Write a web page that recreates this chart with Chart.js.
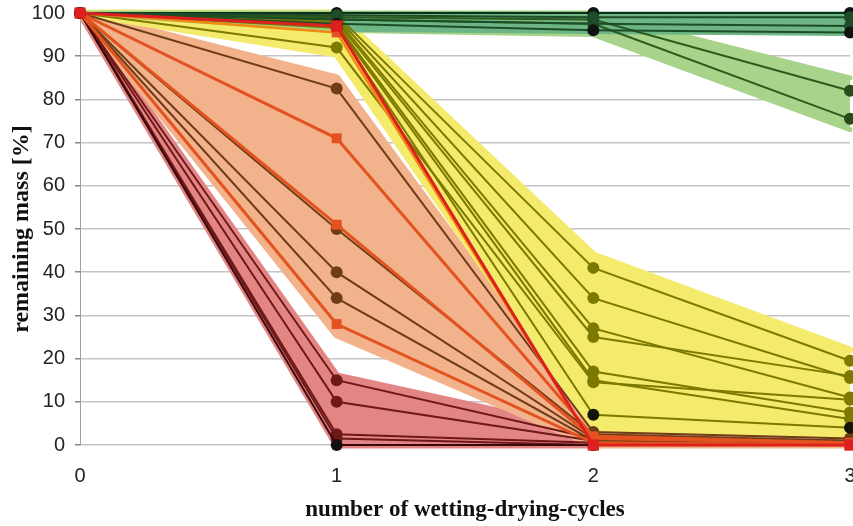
<!DOCTYPE html>
<html>
<head>
<meta charset="utf-8">
<script src="https://cdn.jsdelivr.net/npm/chart.js@4/dist/chart.umd.min.js"></script>
<style>
  html, body { margin: 0; padding: 0; background: #fff; overflow: hidden; }
  #wrap { width: 858px; height: 526px; position: relative; }
</style>
</head>
<body>
<div id="wrap"><canvas id="c"></canvas></div>
<script>
// number of wetting-drying cycles
const cycles = ['0', '1', '2', '3'];

// remaining mass [%] per specimen, one value per cycle (null = no measurement)
// dark red group: decomposed after the first cycles
const redA = [100, 15, 1.5, null];
const redB = [100, 10, 1, null];
const redC = [100, 2.5, 0.5, null];
const redD = [100, 1.5, 0, null];
const redE = [100, 0, 0, null];

// orange group
const brown1 = [100, 82.5, 3, 1.5];
const orange1 = [100, 71, 2, 0.5];
const orange2 = [100, 51, 1.5, 0.5];
const brown2 = [100, 50, 2.5, 1];
const brown3 = [100, 40, 1.5, 1];
const brown4 = [100, 34, 1, 0.5];
const orange3 = [100, 28, 0.5, 0];

// yellow group
const olive1 = [100, 99.5, 41, 19.5];
const olive2 = [100, 99, 34, 15.5];
const olive3 = [100, 98.5, 27, 11];
const olive4 = [100, 98, 25, 16];
const olive5 = [100, 97.5, 17, 7.5];
const olive6 = [100, 97, 15, 6];
const olive7 = [100, 92, 14.5, 10.5];
const olive8 = [100, 96.5, 7, 4];
const orange4 = [100, 95.5, 0, 0];
const red1 = [100, 97, 0, 0];

// green groups
const green1 = [100, 100, 100, 100];
const green2 = [100, 99.5, 99, 99];
const green3 = [100, 98.5, 97.5, 97];
const green4 = [100, 97.5, 96, 95.5];
const lightGreen1 = [100, 99, 98.5, 82];
const lightGreen2 = [100, 98.5, 97.5, 75.5];

// envelopes (upper / lower) of each group
const redBandHi = [100, 16, 3, null];
const redBandLo = [100, 0, 0, null];
const orangeBandHi = [100, 85, 4, 1.5];
const orangeBandLo = [100, 25.5, 0, 0];
const yellowBandHi = [100, 100, 44, 22];
const yellowBandLo = [100, 90.5, 4, 2.5];
const lightGreenBandHi = [100, 100, 100, 85];
const lightGreenBandLo = [100, 96, 95, 73];
const greenBandHi = [null, 100, 100, 100];
const greenBandLo = [null, 96, 95.5, 95];

const layers = [];

function band(hi, lo, color, width) {
  layers.push({
    data: hi, borderColor: color, backgroundColor: color, borderWidth: width,
    borderJoinStyle: 'round', borderCapStyle: 'round',
    pointRadius: 0, fill: '+1'
  });
  layers.push({
    data: lo, borderColor: color, backgroundColor: color, borderWidth: width,
    borderJoinStyle: 'round', borderCapStyle: 'round',
    pointRadius: 0, fill: false
  });
}

function series(values, color, marker, style, radius, width) {
  layers.push({
    data: values, borderColor: color, backgroundColor: marker,
    pointBorderColor: marker, pointBackgroundColor: marker,
    borderWidth: width, pointStyle: style, pointRadius: radius,
    pointBorderWidth: 0, fill: false
  });
}

// envelopes, back to front
band(redBandHi, redBandLo, '#e48585', 7);
band(orangeBandHi, orangeBandLo, '#f1b28c', 7);
band(yellowBandHi, yellowBandLo, '#f4ea6c', 7);
band(lightGreenBandHi, lightGreenBandLo, '#a7d38a', 5);
band(greenBandHi, greenBandLo, '#6db583', 3);

// dark red group
const darkRed = '#6e1818';
series(redA, darkRed, darkRed, 'circle', 6, 2);
series(redB, darkRed, darkRed, 'circle', 6, 2);
series(redC, darkRed, darkRed, 'circle', 6, 2);
series(redD, darkRed, darkRed, 'circle', 6, 2);
series(redE, '#3a0a0a', '#151010', 'circle', 6, 2);

// orange group
const brown = '#6e3c16';
const orange = '#e4521f';
series(brown1, brown, brown, 'circle', 6, 2);
series(brown2, brown, brown, 'circle', 6, 2);
series(brown3, brown, brown, 'circle', 6, 2);
series(brown4, brown, brown, 'circle', 6, 2);
series(orange1, orange, orange, 'rect', 7, 3);
series(orange2, orange, orange, 'rect', 7, 3);
series(orange3, orange, orange, 'rect', 7, 3);

// yellow group
const olive = '#7c7900';
series(olive1, olive, olive, 'circle', 6, 2);
series(olive2, olive, olive, 'circle', 6, 2);
series(olive3, olive, olive, 'circle', 6, 2);
series(olive4, olive, olive, 'circle', 6, 2);
series(olive5, olive, olive, 'circle', 6, 2);
series(olive6, olive, olive, 'circle', 6, 2);
series(olive7, olive, olive, 'circle', 6, 2);
series(olive8, olive, '#151505', 'circle', 6, 2);
series(orange4, '#ee8a10', orange, 'rect', 7, 2.5);

// green groups
const darkGreen = '#1d4d28';
series(lightGreen1, '#2c5a1c', '#2a4a1a', 'circle', 6, 2);
series(lightGreen2, '#2c5a1c', '#2a4a1a', 'circle', 6, 2);
series(green1, '#0f3018', '#101410', 'circle', 6, 2);
series(green2, darkGreen, '#1d4d28', 'circle', 6, 2);
series(green3, darkGreen, '#1d4d28', 'circle', 6, 2);
series(green4, darkGreen, '#101410', 'circle', 6, 2);

// bright red specimen on top
series(red1, '#dc2020', '#dc2020', 'rect', 8, 3);

// first entry painted first
layers.forEach((d, i) => {
  d.order = layers.length - i;
  d.tension = 0;
  d.clip = false;
  d.spanGaps = false;
});

const tickFont = { family: "'Liberation Sans Narrow', 'Liberation Sans', sans-serif", size: 20 };
const xTitleFont = { family: "'Liberation Serif', serif", size: 23, weight: 'bold' };
const yTitleFont = { family: "'Liberation Serif', serif", size: 24, weight: 'bold' };

new Chart(document.getElementById('c'), {
  type: 'line',
  data: { labels: cycles, datasets: layers },
  options: {
    responsive: true,
    maintainAspectRatio: false,
    animation: false,
    events: [],
    layout: { padding: { top: 13, right: 0, bottom: 0, left: 0 } },
    plugins: { legend: { display: false }, tooltip: { enabled: false } },
    scales: {
      x: {
        offset: false,
        grid: { display: false, drawTicks: false },
        border: { display: false },
        ticks: { font: tickFont, color: '#222', padding: 19, maxRotation: 0 },
        title: {
          display: true, text: 'number of wetting-drying-cycles',
          font: xTitleFont, color: '#111', padding: { top: 0, bottom: 2 }
        },
        afterFit: s => { s.height = 81; s.paddingLeft = 0; s.paddingRight = 3; }
      },
      y: {
        min: 0, max: 100,
        grid: { color: '#c4c4c4', lineWidth: 1.5, tickLength: 5, tickColor: '#888' },
        border: { display: true, color: '#a0a0a0', width: 1 },
        ticks: { stepSize: 10, font: tickFont, color: '#222', padding: 10 },
        title: {
          display: true, text: 'remaining mass [%]',
          font: yTitleFont, color: '#111', padding: { top: 7, bottom: 0 }
        },
        afterFit: s => { s.width = 80; s.paddingTop = 0; s.paddingBottom = 0; }
      }
    }
  }
});
</script>
</body>
</html>
